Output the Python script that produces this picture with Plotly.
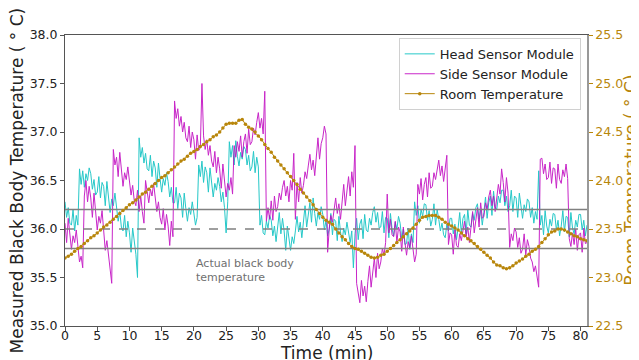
import plotly.graph_objects as go

# Sensor series are sampled every 0.25 min, room temperature every 0.5 min (t starts at 0)
sensor_step_min = 0.25
room_step_min = 0.5

# Head sensor module (deg C); one row per minute: t.00, t.25, t.50, t.75
head_sensor = [
    36.28, 36.12, 36.22, 36.06,  36.04, 36.20, 35.98, 36.14,  36.04, 36.62, 36.46, 36.60,  # 0-2
    36.43, 36.57, 36.50, 36.63,  36.57, 36.41, 36.51, 36.35,  36.38, 36.54, 36.32, 36.48,  # 3-5
    36.44, 36.24, 36.49, 36.33,  36.17, 36.31, 36.24, 36.37,  36.24, 36.08, 36.18, 36.02,  # 6-8
    35.98, 36.14, 35.92, 36.08,  35.96, 35.76, 36.01, 35.85,  35.74, 35.50, 36.94, 36.74,  # 9-11
    36.84, 36.68, 36.78, 36.62,  36.60, 36.76, 36.54, 36.70,  36.63, 36.43, 36.68, 36.52,  # 12-14
    36.38, 36.52, 36.45, 36.58,  36.49, 36.33, 36.43, 36.27,  36.27, 36.43, 36.21, 36.37,  # 15-17
    36.32, 36.12, 36.37, 36.21,  36.08, 36.22, 36.15, 36.28,  36.16, 36.04, 36.12, 36.66,  # 18-20
    36.54, 36.70, 36.48, 36.64,  36.58, 36.38, 36.63, 36.47,  36.33, 36.47, 36.40, 36.53,  # 21-23
    36.44, 36.28, 36.38, 36.22,  35.96, 36.28, 36.90, 36.74,  36.86, 36.66, 36.91, 36.75,  # 24-26
    36.65, 36.79, 36.72, 36.85,  36.82, 36.66, 36.76, 36.60,  36.64, 36.80, 36.58, 36.74,  # 27-29
    36.64, 36.04, 36.14, 35.96,  35.94, 36.08, 36.01, 36.14,  36.09, 35.93, 36.03, 35.87,  # 30-32
    36.01, 36.17, 35.95, 36.11,  35.98, 35.78, 36.03, 35.87,  35.78, 35.92, 35.85, 35.98,  # 33-35
    36.13, 35.97, 36.07, 35.91,  36.08, 36.24, 36.02, 36.18,  36.27, 36.07, 36.32, 36.16,  # 36-38
    36.03, 36.17, 36.10, 36.23,  36.15, 35.99, 36.09, 35.93,  36.00, 36.16, 35.94, 36.10,  # 39-41
    36.08, 35.88, 36.13, 35.97,  35.87, 36.01, 35.94, 36.07,  35.94, 35.86, 35.98, 35.60,  # 42-44
    35.95, 36.11, 35.89, 36.05,  36.10, 35.90, 36.15, 35.99,  35.97, 36.11, 36.04, 36.17,  # 45-47
    36.23, 36.07, 36.17, 36.01,  36.02, 36.18, 35.96, 36.12,  36.11, 35.91, 36.16, 36.00,  # 48-50
    35.93, 36.07, 36.00, 36.13,  36.06, 35.90, 36.00, 35.84,  35.85, 36.01, 35.79, 35.95,  # 51-53
    35.86, 36.28, 36.14, 36.24,  36.06, 36.20, 36.13, 36.26,  36.25, 36.09, 36.19, 36.03,  # 54-56
    36.10, 36.26, 36.04, 36.20,  36.10, 35.98, 36.06, 35.94,  35.91, 36.05, 35.98, 36.11,  # 57-59
    36.11, 35.95, 36.05, 35.89,  36.01, 36.17, 35.95, 36.11,  36.15, 35.95, 36.20, 36.04,  # 60-62
    36.02, 36.16, 36.09, 36.22,  36.26, 36.10, 36.20, 36.04,  36.17, 36.33, 36.11, 36.27,  # 63-65
    36.34, 36.14, 36.39, 36.23,  36.20, 36.34, 36.27, 36.40,  36.40, 36.24, 36.34, 36.18,  # 66-68
    36.24, 36.40, 36.18, 36.34,  36.32, 36.12, 36.37, 36.21,  36.11, 36.25, 36.18, 36.31,  # 69-71
    36.28, 36.12, 36.22, 36.06,  36.18, 36.10, 36.60, 36.04,  36.14, 35.94, 36.19, 36.03,  # 72-74
    35.96, 36.10, 36.03, 36.16,  36.15, 35.99, 36.09, 35.93,  36.03, 36.19, 35.97, 36.13,  # 75-77
    36.12, 35.92, 36.17, 36.01,  35.95, 36.09, 36.02, 36.15,  36.15, 35.99, 36.09, 35.93,  # 78-80
    36.04,                                                                                  # 81
]

# Side sensor module (deg C); one row per minute: t.00, t.25, t.50, t.75
side_sensor = [
    36.06, 35.86, 36.11, 35.95,  35.79, 35.93, 35.86, 35.99,  35.78, 35.66, 35.72, 35.60,  # 0-2
    36.34, 36.50, 36.28, 36.44,  36.32, 36.12, 36.37, 36.21,  35.99, 36.13, 36.06, 36.19,  # 3-5
    35.94, 35.78, 35.88, 35.72,  35.56, 35.44, 36.82, 36.66,  36.74, 36.54, 36.79, 36.63,  # 6-8
    36.44, 36.58, 36.51, 36.64,  36.51, 36.35, 36.45, 36.29,  36.24, 36.40, 36.18, 36.34,  # 9-11
    36.18, 36.06, 36.50, 36.36,  36.27, 36.41, 36.34, 36.47,  36.34, 36.18, 36.28, 36.12,  # 12-14
    36.05, 36.21, 35.99, 36.15,  36.03, 35.83, 36.08, 35.92,  37.32, 37.14, 37.24, 37.06,  # 15-17
    37.16, 37.00, 37.10, 36.94,  36.90, 37.06, 36.84, 37.00,  36.92, 36.72, 36.97, 36.81,  # 18-20
    36.84, 37.50, 36.96, 36.82,  36.92, 36.76, 36.86, 36.70,  36.64, 36.80, 36.58, 36.74,  # 21-23
    36.62, 36.42, 36.67, 36.51,  36.33, 36.47, 36.40, 36.53,  36.36, 36.86, 36.74, 36.90,  # 24-26
    36.80, 36.96, 36.74, 36.90,  36.98, 36.78, 37.03, 36.87,  36.90, 37.04, 36.97, 37.10,  # 27-29
    37.20, 37.04, 37.14, 36.98,  37.42, 36.08, 36.22, 36.10,  36.29, 36.09, 36.34, 36.18,  # 30-32
    36.23, 36.37, 36.30, 36.43,  36.50, 36.34, 36.44, 36.28,  36.50, 36.40, 36.78, 36.10,  # 33-35
    36.48, 36.28, 36.53, 36.37,  36.45, 36.59, 36.52, 36.65,  36.77, 36.61, 36.71, 36.55,  # 36-38
    36.78, 36.94, 36.72, 36.88,  36.94, 37.06, 36.98, 35.76,  36.00, 36.14, 36.07, 36.20,  # 39-41
    36.32, 36.16, 36.26, 36.10,  36.30, 36.46, 36.24, 36.40,  36.54, 36.34, 36.59, 36.43,  # 42-44
    36.86, 35.44, 35.34, 35.24,  35.47, 35.31, 35.41, 35.25,  35.46, 35.62, 35.40, 35.56,  # 45-47
    35.70, 35.50, 35.75, 35.59,  35.66, 35.80, 35.73, 35.86,  36.36, 35.96, 36.10, 35.94,  # 48-50
    35.92, 36.08, 35.86, 36.02,  35.97, 35.77, 36.02, 35.86,  35.73, 35.87, 35.80, 35.93,  # 51-53
    35.82, 35.66, 35.74, 36.46,  36.36, 36.52, 36.30, 36.46,  36.53, 36.33, 36.58, 36.42,  # 54-56
    36.44, 36.58, 36.51, 36.64,  36.71, 36.55, 36.65, 36.49,  36.62, 36.76, 35.84, 35.96,  # 57-59
    35.94, 35.74, 35.99, 35.83,  35.81, 35.95, 35.88, 36.01,  36.08, 35.92, 36.02, 35.86,  # 60-62
    36.02, 36.18, 35.96, 36.12,  36.22, 36.02, 36.27, 36.11,  36.13, 36.27, 36.20, 36.33,  # 63-65
    36.40, 36.24, 36.34, 36.18,  36.30, 36.46, 36.36, 36.62,  36.48, 36.28, 36.53, 36.37,  # 66-68
    35.81, 35.95, 35.88, 36.01,  35.97, 35.81, 35.91, 35.75,  35.79, 35.95, 35.73, 35.89,  # 69-71
    35.82, 35.70, 35.66, 35.56,  35.62, 35.48, 35.40, 36.72,  36.73, 36.57, 36.67, 36.51,  # 72-74
    36.53, 36.69, 36.47, 36.63,  36.62, 36.42, 36.67, 36.51,  36.47, 36.61, 36.54, 36.67,  # 75-77
    36.52, 35.90, 35.82, 35.96,  35.84, 36.00, 35.78, 35.94,  35.96, 35.76, 36.01, 35.85,  # 78-80
    35.86,                                                                                  # 81
]

# Room temperature (deg C, right axis); one row per 5 min: 10 samples at 0.5-min steps
room_temp = [
    23.20, 23.22, 23.24, 23.27, 23.30, 23.32, 23.35, 23.38, 23.41, 23.43,  # 0-4.5
    23.46, 23.49, 23.52, 23.54, 23.57, 23.60, 23.63, 23.66, 23.69, 23.72,  # 5-9.5
    23.75, 23.77, 23.80, 23.83, 23.86, 23.88, 23.91, 23.94, 23.97, 24.00,  # 10-14.5
    24.03, 24.05, 24.08, 24.11, 24.14, 24.17, 24.20, 24.22, 24.25, 24.28,  # 15-19.5
    24.30, 24.32, 24.35, 24.37, 24.40, 24.42, 24.45, 24.47, 24.50, 24.54,  # 20-24.5
    24.58, 24.59, 24.59, 24.59, 24.62, 24.63, 24.58, 24.55, 24.53, 24.50,  # 25-29.5
    24.46, 24.42, 24.37, 24.33, 24.29, 24.24, 24.20, 24.16, 24.12, 24.08,  # 30-34.5
    24.04, 24.00, 23.96, 23.91, 23.87, 23.83, 23.79, 23.75, 23.70, 23.66,  # 35-39.5
    23.62, 23.59, 23.57, 23.55, 23.50, 23.46, 23.42, 23.39, 23.35, 23.32,  # 40-44.5
    23.30, 23.29, 23.27, 23.25, 23.23, 23.21, 23.20, 23.21, 23.23, 23.24,  # 45-49.5
    23.27, 23.30, 23.33, 23.36, 23.39, 23.42, 23.45, 23.48, 23.51, 23.55,  # 50-54.5
    23.59, 23.62, 23.63, 23.64, 23.64, 23.64, 23.62, 23.60, 23.57, 23.55,  # 55-59.5
    23.53, 23.51, 23.49, 23.46, 23.43, 23.40, 23.38, 23.35, 23.32, 23.29,  # 60-64.5
    23.26, 23.23, 23.20, 23.16, 23.13, 23.12, 23.10, 23.09, 23.10, 23.12,  # 65-69.5
    23.15, 23.17, 23.19, 23.22, 23.24, 23.27, 23.29, 23.32, 23.36, 23.40,  # 70-74.5
    23.44, 23.47, 23.48, 23.50, 23.50, 23.49, 23.47, 23.45, 23.43, 23.42,  # 75-79.5
    23.40, 23.39, 23.38,                                                   # 80-81
]

actual_temp = 36.0
tolerance_band = [35.8, 36.2]
x_range = [0, 81]
left_range = [35.0, 38.0]
right_range = [22.5, 25.5]
x_ticks = [0, 5, 10, 15, 20, 25, 30, 35, 40, 45, 50, 55, 60, 65, 70, 75, 80]
left_ticks = [35.0, 35.5, 36.0, 36.5, 37.0, 37.5, 38.0]
right_ticks = [22.5, 23.0, 23.5, 24.0, 24.5, 25.0, 25.5]

assert len(head_sensor) == len(side_sensor)
sensor_time = [i * sensor_step_min for i in range(len(head_sensor))]
room_time = [i * room_step_min for i in range(len(room_temp))]

FONT = "DejaVu Sans"
GOLD = "#B8860B"

fig = go.Figure()
fig.add_trace(go.Scatter(x=sensor_time, y=head_sensor, mode="lines", name="Head Sensor Module",
                         line=dict(color="#00BFBF", width=1), opacity=0.85))
fig.add_trace(go.Scatter(x=sensor_time, y=side_sensor, mode="lines", name="Side Sensor Module",
                         line=dict(color="#BF00BF", width=1), opacity=0.85))
for v in tolerance_band:
    fig.add_trace(go.Scatter(x=x_range, y=[v, v], mode="lines", showlegend=False, hoverinfo="skip",
                             line=dict(color="#808080", width=1.5)))
fig.add_trace(go.Scatter(x=x_range, y=[actual_temp, actual_temp], mode="lines", showlegend=False,
                         hoverinfo="skip", line=dict(color="#808080", width=1.5, dash="dash")))
fig.add_trace(go.Scatter(x=room_time, y=room_temp, mode="lines+markers", name="Room Temperature",
                         yaxis="y2", line=dict(color=GOLD, width=1),
                         marker=dict(color=GOLD, size=3.5)))

fig.add_annotation(x=20, y=35.73, xref="x", yref="y", text="Actual black body<br>temperature",
                   showarrow=False, xanchor="left", yanchor="top", align="left",
                   font=dict(family=FONT, size=11, color="#707070"))

# Axis titles placed as annotations (plot area spans 522 x 291 px)
fig.add_annotation(x=-0.092, y=0.5, xref="paper", yref="paper", textangle=-90, showarrow=False,
                   text="Measured Black Body Temperature ( ° C)", xanchor="center", yanchor="middle",
                   font=dict(family=FONT, size=17, color="#222"))
fig.add_annotation(x=1.083, y=0.5, xref="paper", yref="paper", textangle=-90, showarrow=False,
                   text="Room Temperature ( ° C)", xanchor="center", yanchor="middle",
                   font=dict(family=FONT, size=17, color=GOLD))
fig.add_annotation(x=0.5, y=-0.092, xref="paper", yref="paper", showarrow=False,
                   text="Time (min)", xanchor="center", yanchor="middle",
                   font=dict(family=FONT, size=17, color="#222"))

# The page body adds an 8 px offset, so the figure is 8 px smaller than the window
fig.update_layout(
    width=631, height=352,
    margin=dict(l=57, r=52, t=27, b=34, autoexpand=False),
    paper_bgcolor="white", plot_bgcolor="white",
    font=dict(family=FONT, size=12, color="#222"),
    showlegend=True,
    legend=dict(x=0.988, y=0.99, xanchor="right", yanchor="top",
                bgcolor="white", bordercolor="#d0d0d0", borderwidth=1,
                font=dict(family=FONT, size=13, color="#222"),
                tracegroupgap=0, itemwidth=30),
    xaxis=dict(range=x_range, tickvals=x_ticks, ticks="outside", ticklen=4, tickcolor="#555",
               showgrid=False, zeroline=False, showline=True, linecolor="#555", linewidth=1,
               mirror=True, automargin=False, ticklabelstandoff=-6,
               tickfont=dict(size=12.5, color="#222")),
    yaxis=dict(range=left_range, tickvals=left_ticks, tickformat=".1f", ticks="outside", ticklen=4,
               tickcolor="#555", showgrid=False, zeroline=False, showline=True, linecolor="#555",
               linewidth=1, automargin=False, tickfont=dict(size=12.5, color="#222")),
    yaxis2=dict(range=right_range, tickvals=right_ticks, tickformat=".1f", overlaying="y", side="right",
                ticks="outside", ticklen=4, tickcolor=GOLD, showgrid=False, zeroline=False,
                showline=True, linecolor="#999", linewidth=1.5, automargin=False,
                tickfont=dict(size=12.5, color=GOLD)),
)

fig.write_html("out.html")
